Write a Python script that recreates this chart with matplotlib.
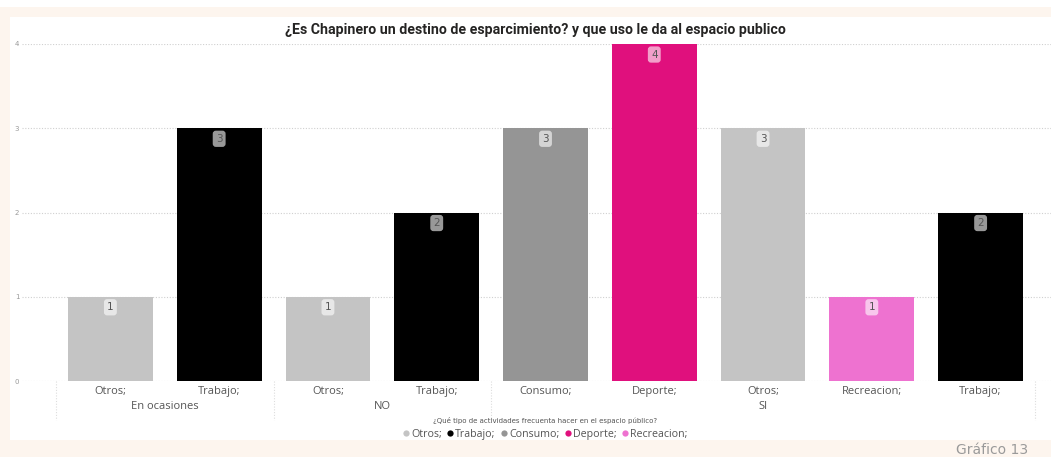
import numpy as np
import matplotlib
matplotlib.use("Agg")
import matplotlib.pyplot as plt
from matplotlib.lines import Line2D
from matplotlib.patches import Rectangle

# datos del gráfico
grupos = ["En ocasiones", "En ocasiones", "NO", "NO", "SI", "SI", "SI", "SI", "SI"]
actividades = ["Otros;", "Trabajo;", "Otros;", "Trabajo;", "Consumo;", "Deporte;",
               "Otros;", "Recreacion;", "Trabajo;"]
valores = [1, 3, 1, 2, 3, 4, 3, 1, 2]
leyenda = ["Otros;", "Trabajo;", "Consumo;", "Deporte;", "Recreacion;"]
colores = {"Otros;": "#c4c4c4", "Trabajo;": "#000000", "Consumo;": "#959595",
           "Deporte;": "#e0107d", "Recreacion;": "#ee72d0"}

W, H = 1051, 457
fig = plt.figure(figsize=(W / 100, H / 100), dpi=100)
fig.patch.set_facecolor("white")

# fondo durazno y panel blanco
fig.add_artist(Rectangle((0, 0), 1, 1 - 7 / H, transform=fig.transFigure,
                         facecolor="#fdf5ee", edgecolor="none", zorder=-10))
fig.add_artist(Rectangle((10 / W, 1 - 440 / H), 1 - 10 / W, (440 - 17) / H,
                         transform=fig.transFigure, facecolor="white",
                         edgecolor="none", zorder=-9))

ax = fig.add_axes([22 / W, 1 - 381 / H, (1051 - 22) / W, (381 - 44) / H])
ax.set_facecolor("none")

x = np.arange(len(valores))
cols = [colores[a] for a in actividades]
ax.bar(x, valores, width=0.78, color=cols, zorder=3)

ax.set_xlim(-0.8125, 8.647)
ax.set_ylim(0, 4)

for v in range(5):
    ax.axhline(v, color="#d0d0d0", lw=0.8, ls=(0, (1, 1.5)), zorder=1)

for s in ax.spines.values():
    s.set_visible(False)
ax.set_xticks([])
ax.set_yticks(range(5))
ax.set_yticklabels([str(v) for v in range(5)], fontsize=5, color="#999999")
ax.tick_params(axis="y", length=0, pad=2)

# etiquetas de datos
for xi, v in zip(x, valores):
    ax.text(xi, v - 0.125, str(v), ha="center", va="center", fontsize=7.5,
            color="#555555", zorder=5,
            bbox=dict(boxstyle="round,pad=0.3", fc="white", alpha=0.6, ec="none"))

# etiquetas del eje x
trans = ax.get_xaxis_transform()
for xi, a in zip(x, actividades):
    ax.text(xi, -0.03, a, transform=trans, ha="center", va="center",
            fontsize=8, color="#555555", family="Open Sans")

inicio = 0
seps = [-0.5]
for i in range(1, len(grupos) + 1):
    if i == len(grupos) or grupos[i] != grupos[inicio]:
        centro = (inicio + i - 1) / 2
        ax.text(centro, -0.077, grupos[inicio], transform=trans, ha="center",
                va="center", fontsize=8, color="#555555", family="Open Sans")
        seps.append(i - 0.5)
        inicio = i
for sx in seps:
    ax.plot([sx, sx], [0, -0.116], transform=trans, color="#dddddd", lw=0.8,
            ls=(0, (1, 1.5)), clip_on=False)

fig.text(535 / W, 1 - 30 / H,
         "¿Es Chapinero un destino de esparcimiento? y que uso le da al espacio publico",
         ha="center", va="center", fontsize=10.2, fontweight="bold", color="#252423",
         family="Roboto")

# leyenda
fig.text(545 / W, 1 - 421 / H,
         "¿Qué tipo de actividades frecuenta hacer en el espacio público?",
         ha="center", va="center", fontsize=5, color="#555555")
handles = [Line2D([], [], marker="o", ls="none", markersize=4.5,
                  markerfacecolor=colores[n], markeredgecolor="none") for n in leyenda]
leg = fig.legend(handles, leyenda, loc="center", ncol=5,
                 bbox_to_anchor=(545 / W, 1 - 434 / H), frameon=False,
                 handletextpad=0.15, columnspacing=0.5,
                 handlelength=0.6, borderpad=0, labelspacing=0,
                 prop={"family": "Open Sans", "size": 7.7})
for t in leg.get_texts():
    t.set_color("#555555")

fig.text(1028 / W, 1 - 450 / H, "Gráfico 13", ha="right", va="center",
         fontsize=10, color="#9a9a9a")

fig.savefig("out.png", dpi=100)
